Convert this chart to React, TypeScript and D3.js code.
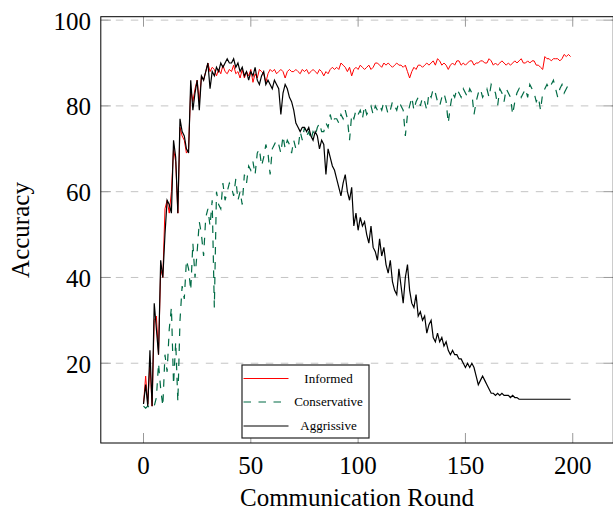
import React from "react";
import * as d3 from "d3";

const rounds: number[] = Array.from({ length: 200 }, (_, i) => i);

const informed: number[] = [
  10.5, 17, 10.5, 20, 10, 30, 31, 22, 42, 40,
  56, 58, 55, 60, 70, 67, 55, 75, 73, 72,
  69, 70, 84, 81, 84, 86, 81, 87, 86, 88,
  90, 88, 89, 88.5, 87, 88.5, 87.5, 89.5, 88, 87.5,
  88.5, 88, 89.5, 87.5, 88, 86.5, 88.5, 86.5, 88, 87,
  88.5, 85.5, 87.5, 86.5, 88.5, 88, 87.5, 85.5, 87.5, 88.5,
  88, 88.5, 87.5, 88, 88.5, 88, 86.5, 88, 88.5, 88,
  88, 88.5, 88, 87.5, 88.5, 88, 88.5, 87.5, 88, 88.5,
  88, 87.5, 88.5, 88, 87, 88, 87.5, 88.5, 89, 88.5,
  89, 88.5, 90, 89.5, 89, 88, 89, 87, 88.5, 89,
  88.5, 89.5, 89, 88.5, 89, 89.5, 88.5, 89, 90, 90,
  89.5, 89, 90, 89.5, 90, 89.5, 89, 89.5, 90, 89.5,
  89.5, 89, 89.5, 88, 86.5, 88, 89, 88.5, 89.5, 89.5,
  89, 89.5, 90, 89.5, 90, 90.5, 89.5, 91, 90.5, 89.5,
  90, 89.5, 88.5, 89.5, 90, 89.5, 90.5, 90.5, 89.5, 90,
  89.5, 90, 90.5, 90.5, 89.5, 90, 90, 90.5, 90.5, 90,
  90, 91, 90.5, 89.5, 90, 89.5, 90, 90.5, 90, 89.5,
  90, 89.5, 90, 90.5, 90, 90.5, 91, 90, 90, 90.5,
  90, 90.5, 90.5, 89.5, 89.5, 89, 88.5, 91.5, 91, 91,
  90.5, 91, 91, 91, 90.5, 91, 92, 91.5, 92, 91.5,
];

const conservative: number[] = [
  10, 9.5, 10, 9.5, 10, 10, 12, 20, 14, 10,
  22, 18, 28, 33, 15, 25, 11, 30, 38, 35,
  44, 42, 37, 48, 40, 46, 53, 50, 45, 54,
  56, 52, 58, 33, 60, 57, 56, 62, 58, 60,
  62, 61, 59, 63, 58, 60, 57, 64, 62, 66,
  65, 67, 64, 69, 70, 66, 68, 71, 69, 64,
  70, 71, 72, 71, 69, 73, 70, 72, 71, 69,
  72, 70, 70, 74, 72, 75, 73, 74, 72, 74,
  73, 75, 76, 74, 74, 76, 75, 78, 76, 77,
  77, 76, 78, 77, 79, 77, 72, 78, 77, 79,
  78, 79, 77, 80, 78, 79, 80, 78, 80, 79,
  80, 79, 81, 80, 78, 79, 81, 80, 79, 81,
  80, 79, 73, 78, 80, 82, 79, 81, 82, 80,
  82, 81, 79, 83, 82, 84, 83, 81, 80, 82,
  83, 81, 76, 80, 83, 82, 84, 83, 82, 84,
  83, 82, 84, 83, 78, 81, 83, 84, 82, 83,
  84, 82, 85, 84, 83, 80, 84, 83, 81, 84,
  83, 82, 78, 81, 83, 84, 82, 83, 84, 82,
  85, 84, 83, 81, 82, 79, 83, 84, 85, 84,
  85, 86, 84, 82, 84, 85, 83, 84, 85, 85,
];

const aggressive: number[] = [
  10.5, 15, 10, 23, 10, 34, 28, 22, 44, 40,
  50, 58, 57, 55, 72, 68, 55, 77, 74, 73,
  70, 69, 86, 79, 83, 86, 79, 87, 86, 88,
  90, 84, 88, 87, 89, 88, 90, 89, 90, 91,
  90, 90, 91, 89, 90, 88, 89, 87, 88, 86,
  88, 87, 89, 86, 85, 87, 88, 85, 86, 85,
  84, 86, 85, 84, 78, 83, 85, 84, 82, 81,
  79, 76, 75, 74, 75, 75, 74, 75, 73, 72,
  74, 73, 70, 72, 71, 64, 70, 68, 66, 65,
  63, 61, 59, 62, 64, 60, 58, 61, 52, 55,
  51, 54, 52, 53, 50, 48, 52, 47, 46, 44,
  49, 45, 47, 43, 41, 44, 39, 37, 36, 42,
  38, 34, 40, 43, 37, 34, 33, 36, 31, 32,
  30, 31, 27, 29, 30, 26, 25, 27, 25, 26,
  24, 25, 23, 22, 23, 22, 22, 21, 21, 20,
  19, 20, 19, 20, 19, 17, 15, 16, 17, 16,
  15, 14, 13, 13, 12.5, 13, 12.5, 13, 12.5, 12.5,
  12.5, 12, 12.5, 12, 12, 11.6, 11.6, 11.6, 11.6, 11.6,
  11.6, 11.6, 11.6, 11.6, 11.6, 11.6, 11.6, 11.6, 11.6, 11.6,
  11.6, 11.6, 11.6, 11.6, 11.6, 11.6, 11.6, 11.6, 11.6, 11.6,
];

const xTicks: number[] = [0, 50, 100, 150, 200];
const yTicks: number[] = [20, 40, 60, 80, 100];
const seriesNames: string[] = ["Informed", "Conservative", "Aggrissive"];
const xLabel = "Communication Round";
const yLabel = "Accuracy";

const W = 613;
const H = 512;
const left = 100.8;
const right = 613.3;
const top = 16.7;
const bottom = 443;
const font = "Liberation Serif, DejaVu Serif, serif";

export default function App() {
  const x = d3.scaleLinear().domain([-19.9, 218.9]).range([left, right]);
  const y = d3.scaleLinear().domain([1.4, 100.8]).range([bottom, top]);

  const mk = (vals: number[]) =>
    d3
      .line<number>()
      .x((_, i) => x(rounds[i]))
      .y((v) => y(v))(vals) as string;

  const series = [
    { name: seriesNames[0], vals: informed, color: "#ff0000", dash: undefined as string | undefined, w: 1 },
    { name: seriesNames[1], vals: conservative, color: "#006b45", dash: "7.5,7.5", w: 1.2 },
    { name: seriesNames[2], vals: aggressive, color: "#000000", dash: undefined as string | undefined, w: 1.2 },
  ];

  const tickLen = 10;
  const legX0 = 242;
  const legY0 = 365;
  const legW = 127;
  const legH = 73;
  const legRows = [378.5, 402, 426];
  const ts = { fontFamily: font };

  return (
    <svg
      width={W}
      height={H}
      style={{ position: "absolute", left: 0, top: 0, background: "#fff" }}
    >
      <rect x={0} y={0} width={W} height={H} fill="#fff" />
      {yTicks.map((t) => (
        <line
          key={"g" + t}
          x1={left}
          x2={right}
          y1={y(t)}
          y2={y(t)}
          stroke="#c4c4c4"
          strokeWidth={1}
          strokeDasharray="7.5,7.5"
        />
      ))}
      {xTicks.map((t) => (
        <g key={"xt" + t} stroke="#999" strokeWidth={1}>
          <line x1={x(t)} x2={x(t)} y1={bottom} y2={bottom - tickLen} />
          <line x1={x(t)} x2={x(t)} y1={top} y2={top + tickLen} />
        </g>
      ))}
      {yTicks.map((t) => (
        <g key={"yt" + t} stroke="#999" strokeWidth={1}>
          <line x1={left} x2={left + tickLen} y1={y(t)} y2={y(t)} />
          <line x1={right} x2={right - tickLen} y1={y(t)} y2={y(t)} />
        </g>
      ))}
      {series.map((s) => (
        <path
          key={s.name}
          d={mk(s.vals)}
          fill="none"
          stroke={s.color}
          strokeWidth={s.w}
          strokeDasharray={s.dash}
          strokeLinejoin="miter"
        />
      ))}
      <rect
        x={left}
        y={top}
        width={right - left}
        height={bottom - top}
        fill="none"
        stroke="#000"
        strokeWidth={1}
      />
      {xTicks.map((t) => (
        <text key={"xl" + t} x={x(t)} y={474} textAnchor="middle" fontSize={25} fill="#000" style={ts}>
          {t}
        </text>
      ))}
      {yTicks.map((t) => (
        <text key={"yl" + t} x={91} y={y(t) + 9.5} textAnchor="end" fontSize={25} fill="#000" style={ts}>
          {t}
        </text>
      ))}
      <text x={357} y={506} textAnchor="middle" fontSize={25} fill="#000" style={ts}>
        {xLabel}
      </text>
      <text
        transform={`translate(29,230) rotate(-90)`}
        textAnchor="middle"
        fontSize={25}
        fill="#000"
        style={ts}
      >
        {yLabel}
      </text>
      <rect x={legX0} y={legY0} width={legW} height={legH} fill="#fff" stroke="#222" strokeWidth={1.2} />
      {series.map((s, i) => (
        <g key={"leg" + s.name}>
          <line
            x1={243.5}
            x2={288.5}
            y1={legRows[i]}
            y2={legRows[i]}
            stroke={s.color}
            strokeWidth={s.w}
            strokeDasharray={s.dash}
          />
          <text x={328.5} y={legRows[i] + 4} textAnchor="middle" fontSize={13} fill="#000" style={ts}>
            {s.name}
          </text>
        </g>
      ))}
    </svg>
  );
}
